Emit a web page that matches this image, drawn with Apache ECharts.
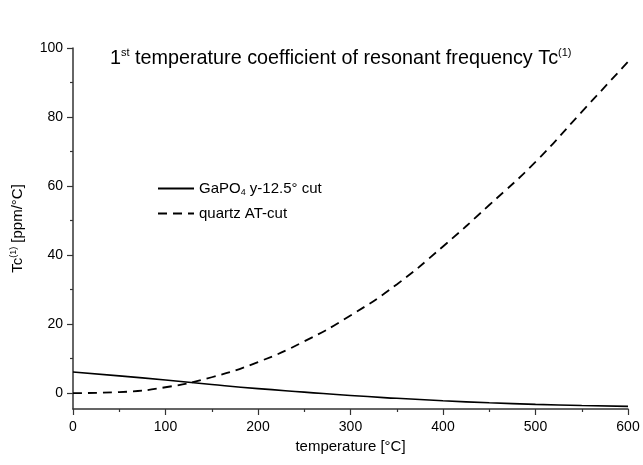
<!DOCTYPE html>
<html>
<head>
<meta charset="utf-8">
<script src="https://cdn.jsdelivr.net/npm/echarts@6/dist/echarts.min.js"></script>
<style>html,body{margin:0;padding:0;background:#fff}#c{width:643px;height:465px}</style>
</head>
<body>
<div id="c"></div>
<script>
var temps = [0, 50, 100, 150, 200, 250, 300, 350, 400, 450, 500, 550, 600];
var gapo4 = [6.1, 5.0, 3.8, 2.5, 1.3, 0.3, -0.7, -1.5, -2.2, -2.8, -3.25, -3.6, -3.85];
var quartz = [0, 0.3, 1.7, 4.6, 9.0, 15.0, 22.5, 31.5, 42.5, 54.5, 67.0, 81.5, 96];
var xMajor = [0, 100, 200, 300, 400, 500, 600];
var xMinor = [50, 150, 250, 350, 450, 550];
var yMajor = [0, 20, 40, 60, 80, 100];
var yMinor = [10, 30, 50, 70, 90];

function pairs(xs, ys) { return xs.map(function (x, i) { return [x, ys[i]]; }); }

var FONT = 'Liberation Sans, Arial, sans-serif';
var axisCol = '#333';
var chart = echarts.init(document.getElementById('c'));
chart.setOption({
  animation: false,
  backgroundColor: '#fff',
  textStyle: { fontFamily: FONT },
  title: {
    text: '1{sup|st} temperature coefficient of resonant frequency Tc{sup|(1)}',
    left: 105, top: 42,
    textStyle: {
      fontFamily: FONT, fontSize: 19.8, fontWeight: 'normal', color: '#000',
      rich: { sup: { fontSize: 11, verticalAlign: 'top', padding: [0, 0, 12, 0], fontFamily: FONT, color: '#000' } }
    }
  },
  legend: {
    orient: 'vertical', left: 157, top: 181, padding: 0, itemWidth: 36, itemHeight: 14, itemGap: 9,
    itemStyle: { opacity: 0 },
    data: [{ name: 'gapo4' }, { name: 'quartz' }],
    formatter: function (n) { return n === 'gapo4' ? 'GaPO{sub|4} y-12.5° cut' : 'quartz AT-cut'; },
    textStyle: {
      fontFamily: FONT, fontSize: 15, color: '#000',
      rich: { sub: { fontSize: 9, verticalAlign: 'bottom', padding: [8, 0, 0, 0], fontFamily: FONT, color: '#000' } }
    }
  },
  grid: { left: 73, right: 15, top: 48, bottom: 56, containLabel: false },
  xAxis: [{
    type: 'value', min: 0, max: 600,
    name: 'temperature [°C]', nameLocation: 'middle', nameGap: 29,
    nameTextStyle: { fontFamily: FONT, fontSize: 15, color: '#000' },
    axisLine: { show: true, onZero: false, lineStyle: { color: axisCol, width: 1.5 } },
    axisTick: { show: true, customValues: xMajor, length: 6, lineStyle: { color: axisCol, width: 1.2 } },
    axisLabel: { customValues: xMajor, fontFamily: FONT, fontSize: 14, color: '#000', margin: 11 },
    splitLine: { show: false }
  }, {
    type: 'value', min: 0, max: 600, position: 'bottom',
    axisLine: { show: false, onZero: false },
    axisTick: { show: true, customValues: xMinor, length: 3, lineStyle: { color: axisCol, width: 1.2 } },
    axisLabel: { show: false }, splitLine: { show: false }
  }],
  yAxis: [{
    type: 'value', min: -4.6, max: 100,
    name: 'Tc{sup|(1)} [ppm/°C]', nameLocation: 'middle', nameGap: 46, nameRotate: 90,
    nameTextStyle: {
      fontFamily: FONT, fontSize: 15, color: '#000',
      rich: { sup: { fontSize: 9, verticalAlign: 'top', padding: [0, 0, 9, 0], fontFamily: FONT, color: '#000' } }
    },
    axisLine: { show: true, onZero: false, lineStyle: { color: axisCol, width: 1.5 } },
    axisTick: { show: true, customValues: yMajor, length: 6, lineStyle: { color: axisCol, width: 1.2 } },
    axisLabel: { customValues: yMajor, fontFamily: FONT, fontSize: 14, color: '#000', margin: 10 },
    splitLine: { show: false }
  }, {
    type: 'value', min: -4.6, max: 100, position: 'left',
    axisLine: { show: false, onZero: false },
    axisTick: { show: true, customValues: yMinor, length: 3, lineStyle: { color: axisCol, width: 1.2 } },
    axisLabel: { show: false }, splitLine: { show: false }
  }],
  series: [{
    name: 'gapo4', type: 'line', smooth: true, symbol: 'none',
    xAxisIndex: 0, yAxisIndex: 0,
    data: pairs(temps, gapo4),
    lineStyle: { color: '#000', width: 1.6, type: 'solid' },
    itemStyle: { color: '#000' }
  }, {
    name: 'quartz', type: 'line', smooth: true, symbol: 'none',
    xAxisIndex: 0, yAxisIndex: 0,
    data: pairs(temps, quartz),
    lineStyle: { color: '#000', width: 1.8, type: [9, 6] },
    itemStyle: { color: '#000' }
  }]
});
</script>
</body>
</html>
